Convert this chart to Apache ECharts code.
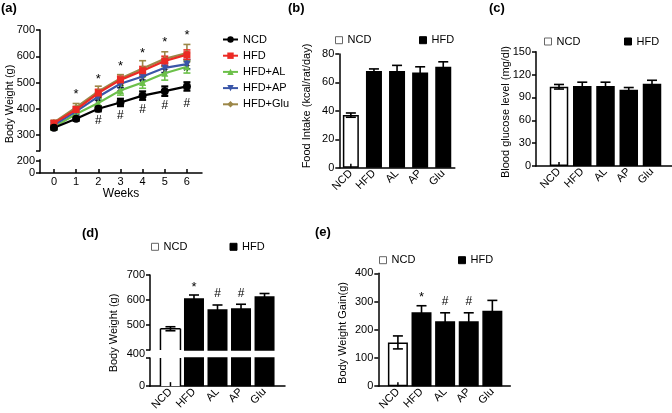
<!DOCTYPE html>
<html><head><meta charset="utf-8">
<script src="https://cdn.jsdelivr.net/npm/echarts@6/dist/echarts.min.js"></script>
<style>html,body{margin:0;padding:0;background:#fff}#c{width:672px;height:413px}</style>
</head><body><div id="c"></div>
<script>
const F = '"Liberation Sans", Arial, Helvetica, sans-serif';

// ---- panel (a): body weight over weeks ----
const weeks = [0, 1, 2, 3, 4, 5, 6];
const ncdWeight = [328, 362, 400, 424, 450, 467, 485];
const ncdWeightErr = [8, 8, 10, 14, 16, 18, 16];
const hfdWeight = [345, 397, 460, 510, 545, 582, 606];
const hfdWeightErr = [8, 12, 14, 14, 16, 18, 18];
const alWeight = [330, 380, 422, 470, 500, 535, 560];
const alWeightErr = [8, 12, 16, 18, 22, 26, 24];
const apWeight = [338, 390, 446, 495, 523, 556, 570];
const apWeightErr = [8, 12, 14, 15, 15, 18, 18];
const gluWeight = [348, 405, 466, 515, 553, 590, 612];
const gluWeightErr = [8, 15, 20, 15, 30, 27, 33];
const starWeeks = [1, 2, 3, 4, 5, 6];
const starPos = [465, 522, 573, 624, 665, 690];
const hashWeeks = [2, 3, 4, 5, 6];
const hashLowPos = [353, 373, 395, 410, 421];
const hashHighPos = [436, 471, 515, 540, 555];
const weekTicks = [0, 1, 2, 3, 4, 5, 6];

// ---- bar panels ----
const groups = ['NCD', 'HFD', 'AL', 'AP', 'Glu'];
const groupIdx = [0, 1, 2, 3, 4];
const foodIntake = [37, 68, 68, 67, 71];
const foodIntakeErr = [1.5, 1.5, 4, 4, 3.5];
const glucose = [104, 105, 105, 100, 108];
const glucoseErr = [3, 5, 5, 3, 4.5];
const finalWeight = [485, 607, 563, 567, 615];
const finalWeightErr = [8, 13, 17, 16, 11];
const finalWeightMarks = ['', '*', '#', '#', ''];
const weightGain = [155, 262, 230, 230, 267];
const weightGainErr = [23, 23, 30, 30, 37];
const weightGainMarks = ['', '*', '#', '#', ''];

const lineColors = {NCD: '#000000', HFD: '#ec2a24', AL: '#6cc04a', AP: '#3a56a8', Glu: '#9c8748'};

function lbl(extra) { return Object.assign({color: '#000', fontSize: 11, fontFamily: F}, extra || {}); }
const AX = {lineStyle: {color: '#000', width: 1.5}, onZero: false};
const TK = {lineStyle: {color: '#000', width: 1.5}, length: 4};

function errRender(color, cap, lw) {
  return function (params, api) {
    const x = api.value(0), v = api.value(1), e = api.value(2);
    const hi = api.coord([x, v + e]), lo = api.coord([x, v - e]);
    const st = {stroke: color, lineWidth: lw};
    return {type: 'group', children: [
      {type: 'line', shape: {x1: hi[0], y1: hi[1], x2: lo[0], y2: lo[1]}, style: st},
      {type: 'line', shape: {x1: hi[0] - cap, y1: hi[1], x2: hi[0] + cap, y2: hi[1]}, style: st},
      {type: 'line', shape: {x1: lo[0] - cap, y1: lo[1], x2: lo[0] + cap, y2: lo[1]}, style: st}
    ]};
  };
}
function textRender(txt, dy, size) {
  return function (params, api) {
    const p = api.coord([api.value(0), api.value(1)]);
    return {type: 'text', x: p[0], y: p[1] + dy,
      style: {text: txt, fill: '#000', fontSize: size, fontFamily: F, align: 'center', verticalAlign: 'middle'}};
  };
}
function markRender(marks) {
  return function (params, api) {
    const m = marks[params.dataIndex];
    if (!m) return null;
    const p = api.coord([api.value(0), api.value(1) + api.value(2)]);
    return {type: 'text', x: p[0], y: p[1] - 11 + (m === '*' ? 3 : 0),
      style: {text: m, fill: '#000', fontSize: m === '*' ? 13 : 12, fontFamily: F, align: 'center', verticalAlign: 'middle'}};
  };
}
function baseTickRender(params, api) {
  const p = api.coord([api.value(0), api.value(1)]);
  return {type: 'line', shape: {x1: p[0], y1: p[1], x2: p[0], y2: p[1] - 4}, style: {stroke: '#000', lineWidth: 1.5}};
}
// open outline of a bar that is cut by an axis break (no edge drawn on the cut side)
function openBarRender(width) {
  return function (params, api) {
    const cs = params.coordSys;
    const x = api.value(0), v = api.value(1);
    const pt = api.coord([x, v]), pb = api.coord([x, 0]);
    const top = Math.max(pt[1], cs.y), bot = Math.min(pb[1], cs.y + cs.height);
    const l = pt[0] - width / 2, r = pt[0] + width / 2;
    const st = {stroke: '#000', lineWidth: 1.5, fill: null};
    const kids = [
      {type: 'line', shape: {x1: l, y1: top, x2: l, y2: bot}, style: st},
      {type: 'line', shape: {x1: r, y1: top, x2: r, y2: bot}, style: st}
    ];
    if (pt[1] >= cs.y) kids.push({type: 'line', shape: {x1: l, y1: top, x2: r, y2: top}, style: st});
    return {type: 'group', children: kids};
  };
}

const grid = [
  {left: 40, top: 30, width: 162, height: 120.75},      // 0 a top
  {left: 40, top: 159.8, width: 162, height: 13.2},     // 1 a bottom
  {left: 339.3, top: 54, width: 115.5, height: 113.7},  // 2 b
  {left: 536, top: 51.7, width: 136, height: 114.3},    // 3 c
  {left: 150, top: 275, width: 135, height: 75},        // 4 d top
  {left: 150, top: 358, width: 135, height: 32},        // 5 d bottom
  {left: 378.3, top: 273.3, width: 132, height: 116}    // 6 e
];

function catX(gi, min, max, show) {
  if (!show) return {gridIndex: gi, type: 'value', min: min, max: max, show: false};
  return {gridIndex: gi, type: 'value', min: min, max: max, axisLine: AX, axisTick: {show: false},
    splitLine: {show: false},
    axisLabel: lbl({customValues: groupIdx, formatter: v => groups[v], rotate: 45, margin: 4})};
}

const xAxis = [
  {gridIndex: 0, type: 'value', min: -0.63, max: 6.68, show: false},
  {gridIndex: 1, type: 'value', min: -0.63, max: 6.68, axisLine: AX,
    axisTick: Object.assign({inside: true, customValues: weekTicks}, TK), splitLine: {show: false},
    axisLabel: lbl({customValues: weekTicks, margin: 3}),
    name: 'Weeks', nameLocation: 'middle', nameGap: 13, nameTextStyle: lbl({fontSize: 12})},
  catX(2, -0.5, 4.5, true),
  catX(3, -0.99, 4.86, true),
  catX(4, -0.87, 4.87, false),
  catX(5, -0.87, 4.87, true),
  catX(6, -0.83, 4.76, true)
];

const yAxis = [
  {gridIndex: 0, type: 'value', min: 240, max: 700, axisLine: AX, splitLine: {show: false},
    axisTick: Object.assign({customValues: [240, 300, 400, 500, 600, 700]}, TK),
    axisLabel: lbl({customValues: [300, 400, 500, 600, 700], margin: 5})},
  {gridIndex: 1, type: 'value', min: 0, max: 220, axisLine: AX, splitLine: {show: false},
    axisTick: Object.assign({customValues: [0, 200]}, TK),
    axisLabel: lbl({customValues: [0, 200], margin: 5})},
  {gridIndex: 2, type: 'value', min: 0, max: 80, interval: 20, axisLine: AX, splitLine: {show: false},
    axisTick: TK, axisLabel: lbl({margin: 5})},
  {gridIndex: 3, type: 'value', min: 0, max: 150, interval: 30, axisLine: AX, splitLine: {show: false},
    axisTick: TK, axisLabel: lbl({margin: 5})},
  {gridIndex: 4, type: 'value', min: 400, max: 700, axisLine: AX, splitLine: {show: false},
    axisTick: Object.assign({customValues: [400, 500, 600, 700]}, TK),
    axisLabel: lbl({customValues: [400, 500, 600, 700], margin: 5,
      formatter: v => v === 400 ? '{low|400}' : String(v),
      rich: {low: {fontSize: 11, fontFamily: F, color: '#000', padding: [8, 0, 0, 0]}}})},
  {gridIndex: 5, type: 'value', min: 0, max: 400, axisLine: AX, splitLine: {show: false},
    axisTick: Object.assign({customValues: [0, 400]}, TK),
    axisLabel: lbl({customValues: [0], margin: 5})},
  {gridIndex: 6, type: 'value', min: 0, max: 400, interval: 100, axisLine: AX, splitLine: {show: false},
    axisTick: TK, axisLabel: lbl({margin: 5})}
];

const series = [];
// panel (a)
const lineDefs = [
  {name: 'HFD+Glu', key: 'Glu', v: gluWeight, e: gluWeightErr, symbol: 'diamond', rot: 0},
  {name: 'HFD+AL', key: 'AL', v: alWeight, e: alWeightErr, symbol: 'triangle', rot: 0},
  {name: 'HFD+AP', key: 'AP', v: apWeight, e: apWeightErr, symbol: 'triangle', rot: 180},
  {name: 'HFD', key: 'HFD', v: hfdWeight, e: hfdWeightErr, symbol: 'rect', rot: 0},
  {name: 'NCD', key: 'NCD', v: ncdWeight, e: ncdWeightErr, symbol: 'circle', rot: 0}
];
lineDefs.forEach(d => {
  const c = lineColors[d.key];
  series.push({type: 'custom', xAxisIndex: 0, yAxisIndex: 0, silent: true,
    renderItem: errRender(c, 3.5, d.key === 'NCD' ? 2.2 : 1.6),
    data: weeks.map((w, i) => [w, d.v[i], d.e[i]])});
  series.push({type: 'line', name: d.name, xAxisIndex: 0, yAxisIndex: 0,
    symbol: d.symbol, symbolRotate: d.rot, symbolSize: d.key === 'NCD' ? 8 : 7,
    color: c, lineStyle: {color: c, width: 2.2}, itemStyle: {color: c},
    data: weeks.map((w, i) => [w, d.v[i]])});
});
series.push({type: 'custom', xAxisIndex: 0, yAxisIndex: 0, renderItem: textRender('*', 3, 13),
  data: starWeeks.map((w, i) => [w, starPos[i]])});
series.push({type: 'custom', xAxisIndex: 0, yAxisIndex: 0, renderItem: textRender('#', 0, 12),
  data: hashWeeks.map((w, i) => [w, hashLowPos[i]])});
series.push({type: 'custom', xAxisIndex: 0, yAxisIndex: 0, renderItem: textRender('#', 0, 12),
  data: hashWeeks.map((w, i) => [w, hashHighPos[i]])});

function barPanel(tag, xi, yi, vals, errs, width, marks, withErr, withBase, openNcd) {
  series.push({type: 'bar', name: 'NCD#' + tag, xAxisIndex: xi, yAxisIndex: yi, barWidth: width, barGap: '-100%',
    itemStyle: {color: '#ffffff', borderColor: '#000', borderWidth: openNcd ? 0 : 1.5},
    data: [[0, vals[0]]]});
  series.push({type: 'bar', name: 'HFD#' + tag, xAxisIndex: xi, yAxisIndex: yi, barWidth: width, barGap: '-100%',
    itemStyle: {color: '#000000', borderColor: '#000', borderWidth: 1.5},
    data: groupIdx.slice(1).map(i => [i, vals[i]])});
  if (openNcd) series.push({type: 'custom', xAxisIndex: xi, yAxisIndex: yi, z: 3, renderItem: openBarRender(width),
    data: [[0, vals[0]]]});
  if (withErr) {
    series.push({type: 'custom', xAxisIndex: xi, yAxisIndex: yi, z: 3, renderItem: errRender('#000', 5, 1.6),
      data: groupIdx.map(i => [i, vals[i], errs[i]])});
    if (marks) series.push({type: 'custom', xAxisIndex: xi, yAxisIndex: yi, z: 3, renderItem: markRender(marks),
      data: groupIdx.map(i => [i, vals[i], errs[i]])});
  }
  if (withBase) series.push({type: 'custom', xAxisIndex: xi, yAxisIndex: yi, z: 4, renderItem: baseTickRender, data: [[0, 0]]});
}
barPanel('b', 2, 2, foodIntake, foodIntakeErr, 16, null, true, true, false);
barPanel('c', 3, 3, glucose, glucoseErr, 18.5, null, true, true, false);
barPanel('d', 4, 4, finalWeight, finalWeightErr, 20, finalWeightMarks, true, false, true);
barPanel('d2', 5, 5, finalWeight, finalWeightErr, 20, null, false, true, true);
barPanel('e', 6, 6, weightGain, weightGainErr, 20, weightGainMarks, true, true, false);

const legendText = lbl({fontSize: 11});
function oneLegend(name, left, cy, fill, border) {
  return {data: [{name: name, icon: 'rect', itemStyle: {color: fill, borderColor: border, borderWidth: 1}}],
    left: left, top: cy - 7, itemWidth: 7, itemHeight: 7, selectedMode: false,
    formatter: n => n.split('#')[0], textStyle: legendText, padding: 0};
}
const legend = [
  {data: ['NCD', 'HFD', 'HFD+AL', 'HFD+AP', 'HFD+Glu'], orient: 'vertical', left: 222, top: 34,
    itemWidth: 15, itemHeight: 8, itemGap: 5.2, selectedMode: false, textStyle: legendText, padding: 0},
  oneLegend('NCD#b', 335, 41.7, '#fff', '#666'), oneLegend('HFD#b', 419, 41.7, '#000', '#000'),
  oneLegend('NCD#c', 544, 43, '#fff', '#666'), oneLegend('HFD#c', 624, 43, '#000', '#000'),
  oneLegend('NCD#d', 151, 248.3, '#fff', '#666'), oneLegend('HFD#d', 229.5, 248.3, '#000', '#000'),
  oneLegend('NCD#e', 379, 261.7, '#fff', '#666'), oneLegend('HFD#e', 458, 261.7, '#000', '#000')
];

function panelLabel(t, x, y) {
  return {type: 'text', x: x, y: y, style: {text: t, fill: '#000', fontSize: 13, fontWeight: 'bold', fontFamily: F, verticalAlign: 'middle'}};
}
function yTitle(t, x, y) {
  return {type: 'text', x: x, y: y, rotation: Math.PI / 2,
    style: {text: t, fill: '#000', fontSize: 11, fontFamily: F, align: 'center', verticalAlign: 'middle'}};
}
const graphic = [
  panelLabel('(a)', 1, 8), panelLabel('(b)', 288, 8), panelLabel('(c)', 489, 8),
  panelLabel('(d)', 82, 233), panelLabel('(e)', 315, 232),
  yTitle('Body Weight (g)', 10, 104), yTitle('Food Intake (kcal/rat/day)', 307, 106),
  yTitle('Blood glucose level (mg/dl)', 506, 112), yTitle('Body Weight (g)', 114, 333),
  yTitle('Body Weight Gain(g)', 343, 333)
];

const chart = echarts.init(document.getElementById('c'), null, {renderer: 'canvas'});
chart.setOption({animation: false, backgroundColor: '#fff', textStyle: {fontFamily: F},
  grid: grid, xAxis: xAxis, yAxis: yAxis, series: series, legend: legend, graphic: graphic});
</script></body></html>
